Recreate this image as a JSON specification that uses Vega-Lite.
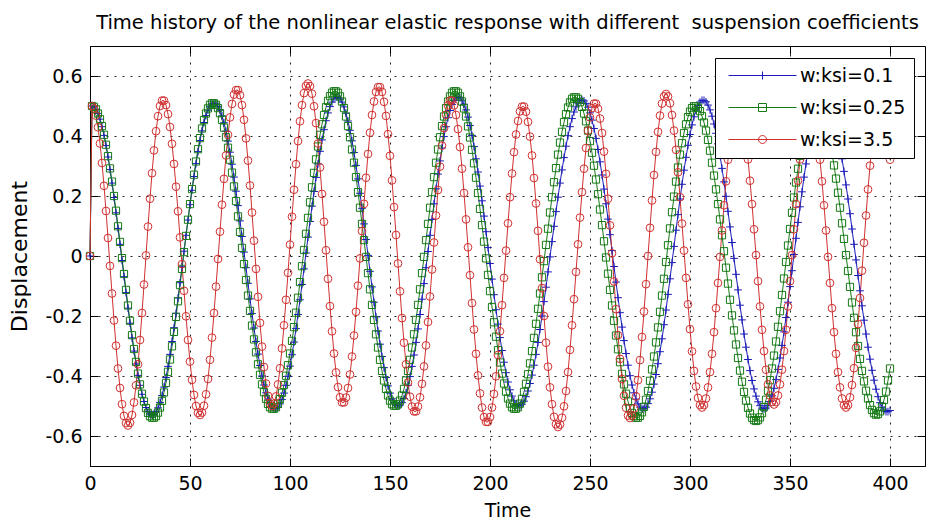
{
"$schema": "https://vega.github.io/schema/vega-lite/v6.json",
"width": 835, "height": 420,
"autosize": {"type": "none"},
"padding": {"left": 90, "top": 46, "right": 3, "bottom": 59},
"background": "white",
"title": {"text": "Time history of the nonlinear elastic response with different\u00a0 suspension coefficients", "font": "DejaVu Sans", "fontSize": 19.5, "fontWeight": "normal", "color": "black", "anchor": "middle", "frame": "group", "baseline": "alphabetic", "offset": 18, "dy": 21},
"data": {"values": [
{"t":0,"a":0,"b":0,"c":0},
{"t":1,"a":0.5,"b":0.5,"c":0.5},
{"t":2,"a":0.497,"b":0.497,"c":0.492},
{"t":3,"a":0.489,"b":0.489,"c":0.468},
{"t":4,"a":0.475,"b":0.475,"c":0.429},
{"t":5,"a":0.456,"b":0.456,"c":0.375},
{"t":6,"a":0.431,"b":0.433,"c":0.310},
{"t":7,"a":0.402,"b":0.404,"c":0.234},
{"t":8,"a":0.368,"b":0.371,"c":0.150},
{"t":9,"a":0.330,"b":0.333,"c":0.060},
{"t":10,"a":0.288,"b":0.292,"c":-0.033},
{"t":11,"a":0.243,"b":0.248,"c":-0.125},
{"t":12,"a":0.195,"b":0.200,"c":-0.215},
{"t":13,"a":0.144,"b":0.151,"c":-0.299},
{"t":14,"a":0.092,"b":0.099,"c":-0.375},
{"t":15,"a":0.039,"b":0.047,"c":-0.440},
{"t":16,"a":-0.015,"b":-0.007,"c":-0.494},
{"t":17,"a":-0.069,"b":-0.060,"c":-0.533},
{"t":18,"a":-0.122,"b":-0.113,"c":-0.557},
{"t":19,"a":-0.174,"b":-0.165,"c":-0.565},
{"t":20,"a":-0.224,"b":-0.216,"c":-0.556},
{"t":21,"a":-0.273,"b":-0.264,"c":-0.530},
{"t":22,"a":-0.317,"b":-0.310,"c":-0.488},
{"t":23,"a":-0.360,"b":-0.353,"c":-0.431},
{"t":24,"a":-0.398,"b":-0.392,"c":-0.361},
{"t":25,"a":-0.431,"b":-0.428,"c":-0.280},
{"t":26,"a":-0.461,"b":-0.459,"c":-0.190},
{"t":27,"a":-0.485,"b":-0.485,"c":-0.095},
{"t":28,"a":-0.505,"b":-0.507,"c":0.002},
{"t":29,"a":-0.519,"b":-0.523,"c":0.098},
{"t":30,"a":-0.527,"b":-0.534,"c":0.191},
{"t":31,"a":-0.530,"b":-0.539,"c":0.276},
{"t":32,"a":-0.527,"b":-0.539,"c":0.352},
{"t":33,"a":-0.519,"b":-0.534,"c":0.416},
{"t":34,"a":-0.506,"b":-0.522,"c":0.466},
{"t":35,"a":-0.488,"b":-0.505,"c":0.500},
{"t":36,"a":-0.465,"b":-0.483,"c":0.518},
{"t":37,"a":-0.437,"b":-0.455,"c":0.518},
{"t":38,"a":-0.405,"b":-0.423,"c":0.503},
{"t":39,"a":-0.368,"b":-0.386,"c":0.473},
{"t":40,"a":-0.328,"b":-0.345,"c":0.430},
{"t":41,"a":-0.285,"b":-0.301,"c":0.374},
{"t":42,"a":-0.239,"b":-0.253,"c":0.307},
{"t":43,"a":-0.191,"b":-0.203,"c":0.231},
{"t":44,"a":-0.140,"b":-0.151,"c":0.149},
{"t":45,"a":-0.089,"b":-0.097,"c":0.062},
{"t":46,"a":-0.036,"b":-0.043,"c":-0.027},
{"t":47,"a":0.016,"b":0.013,"c":-0.116},
{"t":48,"a":0.069,"b":0.067,"c":-0.201},
{"t":49,"a":0.120,"b":0.121,"c":-0.280},
{"t":50,"a":0.171,"b":0.173,"c":-0.352},
{"t":51,"a":0.219,"b":0.223,"c":-0.413},
{"t":52,"a":0.265,"b":0.271,"c":-0.463},
{"t":53,"a":0.308,"b":0.315,"c":-0.500},
{"t":54,"a":0.348,"b":0.356,"c":-0.523},
{"t":55,"a":0.385,"b":0.393,"c":-0.530},
{"t":56,"a":0.417,"b":0.425,"c":-0.522},
{"t":57,"a":0.445,"b":0.453,"c":-0.499},
{"t":58,"a":0.468,"b":0.475,"c":-0.461},
{"t":59,"a":0.486,"b":0.492,"c":-0.410},
{"t":60,"a":0.499,"b":0.504,"c":-0.346},
{"t":61,"a":0.507,"b":0.509,"c":-0.272},
{"t":62,"a":0.510,"b":0.509,"c":-0.190},
{"t":63,"a":0.507,"b":0.504,"c":-0.102},
{"t":64,"a":0.499,"b":0.493,"c":-0.010},
{"t":65,"a":0.486,"b":0.476,"c":0.081},
{"t":66,"a":0.467,"b":0.454,"c":0.171},
{"t":67,"a":0.444,"b":0.428,"c":0.257},
{"t":68,"a":0.416,"b":0.396,"c":0.335},
{"t":69,"a":0.383,"b":0.361,"c":0.404},
{"t":70,"a":0.346,"b":0.321,"c":0.462},
{"t":71,"a":0.306,"b":0.278,"c":0.507},
{"t":72,"a":0.263,"b":0.232,"c":0.538},
{"t":73,"a":0.216,"b":0.183,"c":0.553},
{"t":74,"a":0.168,"b":0.132,"c":0.553},
{"t":75,"a":0.117,"b":0.080,"c":0.536},
{"t":76,"a":0.065,"b":0.027,"c":0.503},
{"t":77,"a":0.013,"b":-0.027,"c":0.454},
{"t":78,"a":-0.039,"b":-0.080,"c":0.392},
{"t":79,"a":-0.091,"b":-0.132,"c":0.318},
{"t":80,"a":-0.143,"b":-0.183,"c":0.235},
{"t":81,"a":-0.192,"b":-0.232,"c":0.145},
{"t":82,"a":-0.240,"b":-0.278,"c":0.051},
{"t":83,"a":-0.285,"b":-0.321,"c":-0.043},
{"t":84,"a":-0.327,"b":-0.361,"c":-0.136},
{"t":85,"a":-0.365,"b":-0.396,"c":-0.223},
{"t":86,"a":-0.400,"b":-0.428,"c":-0.302},
{"t":87,"a":-0.430,"b":-0.454,"c":-0.370},
{"t":88,"a":-0.456,"b":-0.476,"c":-0.425},
{"t":89,"a":-0.477,"b":-0.493,"c":-0.466},
{"t":90,"a":-0.493,"b":-0.504,"c":-0.492},
{"t":91,"a":-0.504,"b":-0.509,"c":-0.500},
{"t":92,"a":-0.509,"b":-0.509,"c":-0.492},
{"t":93,"a":-0.509,"b":-0.504,"c":-0.468},
{"t":94,"a":-0.504,"b":-0.493,"c":-0.428},
{"t":95,"a":-0.493,"b":-0.477,"c":-0.374},
{"t":96,"a":-0.478,"b":-0.456,"c":-0.308},
{"t":97,"a":-0.457,"b":-0.430,"c":-0.231},
{"t":98,"a":-0.431,"b":-0.399,"c":-0.146},
{"t":99,"a":-0.401,"b":-0.364,"c":-0.056},
{"t":100,"a":-0.367,"b":-0.325,"c":0.038},
{"t":101,"a":-0.329,"b":-0.283,"c":0.131},
{"t":102,"a":-0.287,"b":-0.237,"c":0.221},
{"t":103,"a":-0.242,"b":-0.189,"c":0.306},
{"t":104,"a":-0.195,"b":-0.139,"c":0.383},
{"t":105,"a":-0.146,"b":-0.087,"c":0.449},
{"t":106,"a":-0.095,"b":-0.034,"c":0.503},
{"t":107,"a":-0.043,"b":0.020,"c":0.543},
{"t":108,"a":0.010,"b":0.074,"c":0.567},
{"t":109,"a":0.063,"b":0.127,"c":0.575},
{"t":110,"a":0.115,"b":0.179,"c":0.566},
{"t":111,"a":0.166,"b":0.229,"c":0.541},
{"t":112,"a":0.215,"b":0.277,"c":0.499},
{"t":113,"a":0.262,"b":0.322,"c":0.443},
{"t":114,"a":0.307,"b":0.365,"c":0.375},
{"t":115,"a":0.349,"b":0.404,"c":0.295},
{"t":116,"a":0.387,"b":0.439,"c":0.207},
{"t":117,"a":0.421,"b":0.470,"c":0.114},
{"t":118,"a":0.451,"b":0.496,"c":0.019},
{"t":119,"a":0.477,"b":0.517,"c":-0.076},
{"t":120,"a":0.498,"b":0.533,"c":-0.167},
{"t":121,"a":0.513,"b":0.544,"c":-0.251},
{"t":122,"a":0.524,"b":0.549,"c":-0.325},
{"t":123,"a":0.529,"b":0.549,"c":-0.388},
{"t":124,"a":0.529,"b":0.544,"c":-0.437},
{"t":125,"a":0.524,"b":0.532,"c":-0.471},
{"t":126,"a":0.513,"b":0.515,"c":-0.488},
{"t":127,"a":0.497,"b":0.493,"c":-0.488},
{"t":128,"a":0.476,"b":0.465,"c":-0.472},
{"t":129,"a":0.450,"b":0.433,"c":-0.440},
{"t":130,"a":0.419,"b":0.396,"c":-0.395},
{"t":131,"a":0.384,"b":0.355,"c":-0.335},
{"t":132,"a":0.345,"b":0.311,"c":-0.265},
{"t":133,"a":0.302,"b":0.263,"c":-0.186},
{"t":134,"a":0.257,"b":0.213,"c":-0.099},
{"t":135,"a":0.209,"b":0.161,"c":-0.008},
{"t":136,"a":0.159,"b":0.107,"c":0.083},
{"t":137,"a":0.107,"b":0.053,"c":0.174},
{"t":138,"a":0.055,"b":-0.003,"c":0.261},
{"t":139,"a":0.002,"b":-0.057,"c":0.340},
{"t":140,"a":-0.051,"b":-0.111,"c":0.411},
{"t":141,"a":-0.103,"b":-0.163,"c":0.470},
{"t":142,"a":-0.154,"b":-0.213,"c":0.515},
{"t":143,"a":-0.203,"b":-0.261,"c":0.547},
{"t":144,"a":-0.250,"b":-0.305,"c":0.563},
{"t":145,"a":-0.294,"b":-0.346,"c":0.563},
{"t":146,"a":-0.335,"b":-0.383,"c":0.547},
{"t":147,"a":-0.372,"b":-0.415,"c":0.514},
{"t":148,"a":-0.405,"b":-0.443,"c":0.467},
{"t":149,"a":-0.433,"b":-0.465,"c":0.406},
{"t":150,"a":-0.457,"b":-0.482,"c":0.334},
{"t":151,"a":-0.476,"b":-0.494,"c":0.252},
{"t":152,"a":-0.489,"b":-0.499,"c":0.163},
{"t":153,"a":-0.497,"b":-0.499,"c":0.070},
{"t":154,"a":-0.500,"b":-0.494,"c":-0.025},
{"t":155,"a":-0.497,"b":-0.482,"c":-0.118},
{"t":156,"a":-0.489,"b":-0.465,"c":-0.207},
{"t":157,"a":-0.475,"b":-0.443,"c":-0.289},
{"t":158,"a":-0.456,"b":-0.415,"c":-0.361},
{"t":159,"a":-0.431,"b":-0.383,"c":-0.422},
{"t":160,"a":-0.402,"b":-0.346,"c":-0.469},
{"t":161,"a":-0.368,"b":-0.305,"c":-0.502},
{"t":162,"a":-0.330,"b":-0.261,"c":-0.518},
{"t":163,"a":-0.288,"b":-0.213,"c":-0.518},
{"t":164,"a":-0.243,"b":-0.163,"c":-0.502},
{"t":165,"a":-0.195,"b":-0.111,"c":-0.471},
{"t":166,"a":-0.144,"b":-0.057,"c":-0.426},
{"t":167,"a":-0.092,"b":-0.003,"c":-0.368},
{"t":168,"a":-0.039,"b":0.053,"c":-0.298},
{"t":169,"a":0.015,"b":0.107,"c":-0.220},
{"t":170,"a":0.069,"b":0.161,"c":-0.135},
{"t":171,"a":0.122,"b":0.213,"c":-0.045},
{"t":172,"a":0.174,"b":0.263,"c":0.045},
{"t":173,"a":0.224,"b":0.311,"c":0.135},
{"t":174,"a":0.273,"b":0.355,"c":0.220},
{"t":175,"a":0.317,"b":0.396,"c":0.298},
{"t":176,"a":0.360,"b":0.433,"c":0.368},
{"t":177,"a":0.398,"b":0.465,"c":0.426},
{"t":178,"a":0.431,"b":0.493,"c":0.471},
{"t":179,"a":0.461,"b":0.515,"c":0.502},
{"t":180,"a":0.485,"b":0.532,"c":0.518},
{"t":181,"a":0.505,"b":0.544,"c":0.518},
{"t":182,"a":0.519,"b":0.549,"c":0.502},
{"t":183,"a":0.527,"b":0.549,"c":0.470},
{"t":184,"a":0.530,"b":0.544,"c":0.423},
{"t":185,"a":0.527,"b":0.532,"c":0.363},
{"t":186,"a":0.519,"b":0.515,"c":0.291},
{"t":187,"a":0.506,"b":0.492,"c":0.210},
{"t":188,"a":0.487,"b":0.465,"c":0.122},
{"t":189,"a":0.463,"b":0.432,"c":0.029},
{"t":190,"a":0.435,"b":0.395,"c":-0.064},
{"t":191,"a":0.402,"b":0.354,"c":-0.157},
{"t":192,"a":0.365,"b":0.309,"c":-0.245},
{"t":193,"a":0.324,"b":0.261,"c":-0.326},
{"t":194,"a":0.280,"b":0.210,"c":-0.398},
{"t":195,"a":0.233,"b":0.157,"c":-0.458},
{"t":196,"a":0.184,"b":0.103,"c":-0.505},
{"t":197,"a":0.133,"b":0.048,"c":-0.537},
{"t":198,"a":0.081,"b":-0.008,"c":-0.553},
{"t":199,"a":0.028,"b":-0.063,"c":-0.553},
{"t":200,"a":-0.025,"b":-0.117,"c":-0.537},
{"t":201,"a":-0.077,"b":-0.170,"c":-0.505},
{"t":202,"a":-0.129,"b":-0.221,"c":-0.460},
{"t":203,"a":-0.179,"b":-0.269,"c":-0.401},
{"t":204,"a":-0.227,"b":-0.314,"c":-0.330},
{"t":205,"a":-0.272,"b":-0.355,"c":-0.251},
{"t":206,"a":-0.315,"b":-0.392,"c":-0.164},
{"t":207,"a":-0.354,"b":-0.425,"c":-0.073},
{"t":208,"a":-0.389,"b":-0.452,"c":0.018},
{"t":209,"a":-0.420,"b":-0.475,"c":0.109},
{"t":210,"a":-0.446,"b":-0.492,"c":0.196},
{"t":211,"a":-0.467,"b":-0.504,"c":0.275},
{"t":212,"a":-0.483,"b":-0.509,"c":0.346},
{"t":213,"a":-0.494,"b":-0.509,"c":0.405},
{"t":214,"a":-0.499,"b":-0.504,"c":0.450},
{"t":215,"a":-0.499,"b":-0.492,"c":0.482},
{"t":216,"a":-0.494,"b":-0.476,"c":0.498},
{"t":217,"a":-0.484,"b":-0.453,"c":0.498},
{"t":218,"a":-0.469,"b":-0.426,"c":0.481},
{"t":219,"a":-0.450,"b":-0.394,"c":0.447},
{"t":220,"a":-0.425,"b":-0.358,"c":0.398},
{"t":221,"a":-0.397,"b":-0.317,"c":0.335},
{"t":222,"a":-0.364,"b":-0.273,"c":0.260},
{"t":223,"a":-0.328,"b":-0.226,"c":0.175},
{"t":224,"a":-0.288,"b":-0.176,"c":0.084},
{"t":225,"a":-0.245,"b":-0.125,"c":-0.011},
{"t":226,"a":-0.200,"b":-0.071,"c":-0.107},
{"t":227,"a":-0.152,"b":-0.017,"c":-0.200},
{"t":228,"a":-0.104,"b":0.037,"c":-0.289},
{"t":229,"a":-0.053,"b":0.091,"c":-0.369},
{"t":230,"a":-0.003,"b":0.145,"c":-0.438},
{"t":231,"a":0.048,"b":0.196,"c":-0.494},
{"t":232,"a":0.099,"b":0.246,"c":-0.536},
{"t":233,"a":0.148,"b":0.293,"c":-0.561},
{"t":234,"a":0.196,"b":0.338,"c":-0.570},
{"t":235,"a":0.243,"b":0.378,"c":-0.562},
{"t":236,"a":0.287,"b":0.414,"c":-0.539},
{"t":237,"a":0.328,"b":0.446,"c":-0.501},
{"t":238,"a":0.366,"b":0.473,"c":-0.450},
{"t":239,"a":0.401,"b":0.495,"c":-0.387},
{"t":240,"a":0.431,"b":0.512,"c":-0.313},
{"t":241,"a":0.458,"b":0.524,"c":-0.231},
{"t":242,"a":0.480,"b":0.529,"c":-0.144},
{"t":243,"a":0.497,"b":0.529,"c":-0.053},
{"t":244,"a":0.510,"b":0.524,"c":0.039},
{"t":245,"a":0.518,"b":0.513,"c":0.128},
{"t":246,"a":0.520,"b":0.497,"c":0.213},
{"t":247,"a":0.517,"b":0.475,"c":0.291},
{"t":248,"a":0.509,"b":0.449,"c":0.360},
{"t":249,"a":0.496,"b":0.418,"c":0.418},
{"t":250,"a":0.477,"b":0.383,"c":0.462},
{"t":251,"a":0.453,"b":0.344,"c":0.493},
{"t":252,"a":0.425,"b":0.301,"c":0.508},
{"t":253,"a":0.392,"b":0.255,"c":0.508},
{"t":254,"a":0.355,"b":0.206,"c":0.491},
{"t":255,"a":0.314,"b":0.155,"c":0.458},
{"t":256,"a":0.270,"b":0.103,"c":0.410},
{"t":257,"a":0.223,"b":0.049,"c":0.348},
{"t":258,"a":0.174,"b":-0.005,"c":0.274},
{"t":259,"a":0.123,"b":-0.059,"c":0.191},
{"t":260,"a":0.071,"b":-0.113,"c":0.102},
{"t":261,"a":0.018,"b":-0.165,"c":0.009},
{"t":262,"a":-0.035,"b":-0.216,"c":-0.085},
{"t":263,"a":-0.087,"b":-0.265,"c":-0.177},
{"t":264,"a":-0.139,"b":-0.311,"c":-0.264},
{"t":265,"a":-0.189,"b":-0.354,"c":-0.343},
{"t":266,"a":-0.237,"b":-0.393,"c":-0.410},
{"t":267,"a":-0.282,"b":-0.428,"c":-0.466},
{"t":268,"a":-0.325,"b":-0.459,"c":-0.506},
{"t":269,"a":-0.364,"b":-0.485,"c":-0.532},
{"t":270,"a":-0.399,"b":-0.507,"c":-0.540},
{"t":271,"a":-0.430,"b":-0.523,"c":-0.532},
{"t":272,"a":-0.456,"b":-0.534,"c":-0.508},
{"t":273,"a":-0.477,"b":-0.539,"c":-0.468},
{"t":274,"a":-0.493,"b":-0.539,"c":-0.414},
{"t":275,"a":-0.504,"b":-0.533,"c":-0.347},
{"t":276,"a":-0.509,"b":-0.521,"c":-0.270},
{"t":277,"a":-0.509,"b":-0.503,"c":-0.185},
{"t":278,"a":-0.504,"b":-0.479,"c":-0.094},
{"t":279,"a":-0.492,"b":-0.450,"c":0.000},
{"t":280,"a":-0.476,"b":-0.416,"c":0.094},
{"t":281,"a":-0.454,"b":-0.378,"c":0.185},
{"t":282,"a":-0.427,"b":-0.335,"c":0.270},
{"t":283,"a":-0.395,"b":-0.288,"c":0.347},
{"t":284,"a":-0.359,"b":-0.238,"c":0.414},
{"t":285,"a":-0.319,"b":-0.186,"c":0.468},
{"t":286,"a":-0.276,"b":-0.132,"c":0.508},
{"t":287,"a":-0.229,"b":-0.076,"c":0.532},
{"t":288,"a":-0.180,"b":-0.020,"c":0.540},
{"t":289,"a":-0.128,"b":0.036,"c":0.532},
{"t":290,"a":-0.076,"b":0.092,"c":0.509},
{"t":291,"a":-0.022,"b":0.146,"c":0.470},
{"t":292,"a":0.032,"b":0.198,"c":0.418},
{"t":293,"a":0.086,"b":0.248,"c":0.354},
{"t":294,"a":0.138,"b":0.295,"c":0.279},
{"t":295,"a":0.190,"b":0.338,"c":0.196},
{"t":296,"a":0.239,"b":0.376,"c":0.108},
{"t":297,"a":0.286,"b":0.410,"c":0.018},
{"t":298,"a":0.329,"b":0.439,"c":-0.073},
{"t":299,"a":0.369,"b":0.463,"c":-0.161},
{"t":300,"a":0.405,"b":0.481,"c":-0.244},
{"t":301,"a":0.437,"b":0.493,"c":-0.318},
{"t":302,"a":0.464,"b":0.499,"c":-0.383},
{"t":303,"a":0.486,"b":0.499,"c":-0.435},
{"t":304,"a":0.502,"b":0.494,"c":-0.473},
{"t":305,"a":0.513,"b":0.483,"c":-0.497},
{"t":306,"a":0.519,"b":0.466,"c":-0.505},
{"t":307,"a":0.519,"b":0.445,"c":-0.497},
{"t":308,"a":0.514,"b":0.418,"c":-0.475},
{"t":309,"a":0.503,"b":0.387,"c":-0.438},
{"t":310,"a":0.487,"b":0.351,"c":-0.387},
{"t":311,"a":0.466,"b":0.311,"c":-0.326},
{"t":312,"a":0.440,"b":0.268,"c":-0.254},
{"t":313,"a":0.409,"b":0.222,"c":-0.174},
{"t":314,"a":0.374,"b":0.173,"c":-0.090},
{"t":315,"a":0.335,"b":0.122,"c":-0.003},
{"t":316,"a":0.292,"b":0.069,"c":0.085},
{"t":317,"a":0.247,"b":0.016,"c":0.169},
{"t":318,"a":0.199,"b":-0.039,"c":0.249},
{"t":319,"a":0.149,"b":-0.092,"c":0.321},
{"t":320,"a":0.097,"b":-0.146,"c":0.382},
{"t":321,"a":0.045,"b":-0.198,"c":0.433},
{"t":322,"a":-0.008,"b":-0.248,"c":0.470},
{"t":323,"a":-0.061,"b":-0.295,"c":0.492},
{"t":324,"a":-0.113,"b":-0.340,"c":0.500},
{"t":325,"a":-0.164,"b":-0.382,"c":0.492},
{"t":326,"a":-0.213,"b":-0.419,"c":0.470},
{"t":327,"a":-0.260,"b":-0.453,"c":0.433},
{"t":328,"a":-0.304,"b":-0.482,"c":0.384},
{"t":329,"a":-0.345,"b":-0.506,"c":0.322},
{"t":330,"a":-0.382,"b":-0.525,"c":0.251},
{"t":331,"a":-0.415,"b":-0.539,"c":0.173},
{"t":332,"a":-0.443,"b":-0.547,"c":0.089},
{"t":333,"a":-0.467,"b":-0.550,"c":0.003},
{"t":334,"a":-0.486,"b":-0.547,"c":-0.084},
{"t":335,"a":-0.499,"b":-0.538,"c":-0.168},
{"t":336,"a":-0.507,"b":-0.524,"c":-0.246},
{"t":337,"a":-0.510,"b":-0.504,"c":-0.317},
{"t":338,"a":-0.507,"b":-0.479,"c":-0.379},
{"t":339,"a":-0.499,"b":-0.449,"c":-0.428},
{"t":340,"a":-0.485,"b":-0.414,"c":-0.465},
{"t":341,"a":-0.466,"b":-0.375,"c":-0.487},
{"t":342,"a":-0.441,"b":-0.332,"c":-0.495},
{"t":343,"a":-0.412,"b":-0.285,"c":-0.487},
{"t":344,"a":-0.378,"b":-0.236,"c":-0.465},
{"t":345,"a":-0.340,"b":-0.184,"c":-0.428},
{"t":346,"a":-0.298,"b":-0.130,"c":-0.379},
{"t":347,"a":-0.253,"b":-0.075,"c":-0.317},
{"t":348,"a":-0.205,"b":-0.020,"c":-0.246},
{"t":349,"a":-0.154,"b":0.035,"c":-0.168},
{"t":350,"a":-0.102,"b":0.090,"c":-0.084},
{"t":351,"a":-0.049,"b":0.144,"c":0.003},
{"t":352,"a":0.005,"b":0.195,"c":0.089},
{"t":353,"a":0.059,"b":0.245,"c":0.173},
{"t":354,"a":0.112,"b":0.291,"c":0.251},
{"t":355,"a":0.164,"b":0.334,"c":0.322},
{"t":356,"a":0.214,"b":0.374,"c":0.384},
{"t":357,"a":0.263,"b":0.409,"c":0.433},
{"t":358,"a":0.307,"b":0.439,"c":0.470},
{"t":359,"a":0.350,"b":0.464,"c":0.492},
{"t":360,"a":0.388,"b":0.484,"c":0.500},
{"t":361,"a":0.421,"b":0.498,"c":0.492},
{"t":362,"a":0.451,"b":0.507,"c":0.470},
{"t":363,"a":0.475,"b":0.510,"c":0.433},
{"t":364,"a":0.495,"b":0.507,"c":0.382},
{"t":365,"a":0.509,"b":0.499,"c":0.321},
{"t":366,"a":0.517,"b":0.485,"c":0.249},
{"t":367,"a":0.520,"b":0.467,"c":0.169},
{"t":368,"a":0.517,"b":0.443,"c":0.085},
{"t":369,"a":0.510,"b":0.414,"c":-0.003},
{"t":370,"a":0.497,"b":0.381,"c":-0.090},
{"t":371,"a":0.479,"b":0.343,"c":-0.174},
{"t":372,"a":0.457,"b":0.302,"c":-0.254},
{"t":373,"a":0.430,"b":0.258,"c":-0.326},
{"t":374,"a":0.398,"b":0.211,"c":-0.387},
{"t":375,"a":0.363,"b":0.161,"c":-0.438},
{"t":376,"a":0.324,"b":0.109,"c":-0.475},
{"t":377,"a":0.282,"b":0.057,"c":-0.497},
{"t":378,"a":0.237,"b":0.003,"c":-0.505},
{"t":379,"a":0.190,"b":-0.050,"c":-0.497},
{"t":380,"a":0.141,"b":-0.103,"c":-0.471},
{"t":381,"a":0.090,"b":-0.155,"c":-0.430},
{"t":382,"a":0.039,"b":-0.206,"c":-0.374},
{"t":383,"a":-0.013,"b":-0.254,"c":-0.306},
{"t":384,"a":-0.065,"b":-0.300,"c":-0.227},
{"t":385,"a":-0.116,"b":-0.343,"c":-0.140},
{"t":386,"a":-0.166,"b":-0.383,"c":-0.049},
{"t":387,"a":-0.214,"b":-0.418,"c":0.044},
{"t":388,"a":-0.260,"b":-0.449,"c":0.135},
{"t":389,"a":-0.304,"b":-0.475,"c":0.222},
{"t":390,"a":-0.344,"b":-0.497,"c":0.301},
{"t":391,"a":-0.381,"b":-0.513,"c":0.369},
{"t":392,"a":-0.414,"b":-0.524,"c":0.425},
{"t":393,"a":-0.444,"b":-0.529,"c":0.466},
{"t":394,"a":-0.469,"b":-0.527,"c":0.492},
{"t":395,"a":-0.489,"b":-0.518,"c":0.500},
{"t":396,"a":-0.504,"b":-0.502,"c":0.492},
{"t":397,"a":-0.514,"b":-0.480,"c":0.470},
{"t":398,"a":-0.519,"b":-0.452,"c":0.433},
{"t":399,"a":-0.519,"b":-0.415,"c":0.383},
{"t":400,"a":-0.515,"b":-0.375,"c":0.321}
]},
"transform": [{"fold": ["a", "b", "c"], "as": ["s", "v"]}],
"layer": [
{
"mark": {"type": "line", "strokeWidth": 1, "interpolate": "linear"},
"encoding": {
"x": {"field": "t", "type": "quantitative", "scale": {"domain": [0, 417.5], "nice": false, "zero": false},
"axis": {"orient": "bottom", "values": [0, 50, 100, 150, 200, 250, 300, 350, 400], "grid": true, "gridDash": [2, 6], "gridColor": "#222222", "gridWidth": 1, "ticks": false, "domain": true, "domainColor": "black", "labelFont": "DejaVu Sans", "labelFontSize": 19, "labelColor": "black", "labelPadding": 8, "labelFlush": false, "labelOverlap": false, "title": "Time", "titleFont": "DejaVu Sans", "titleFontSize": 19, "titleFontWeight": "normal", "titleColor": "black", "titlePadding": 8}},
"y": {"field": "v", "type": "quantitative", "scale": {"domain": [-0.7, 0.7], "nice": false, "zero": false},
"axis": {"orient": "left", "values": [-0.6, -0.4, -0.2, 0, 0.2, 0.4, 0.6], "grid": true, "gridDash": [2, 6], "gridColor": "#222222", "gridWidth": 1, "ticks": false, "domain": true, "domainColor": "black", "labelFont": "DejaVu Sans", "labelFontSize": 19, "labelColor": "black", "labelPadding": 8, "labelFlush": false, "labelOverlap": false, "labelExpr": "datum.value == 0 ? '0' : (datum.value < 0 ? '-' + format(-datum.value, '.1f') : format(datum.value, '.1f'))", "title": "Displacement", "titleFont": "DejaVu Sans", "titleFontSize": 22, "titleFontWeight": "normal", "titleColor": "black", "titlePadding": 13}},
"color": {"field": "s", "type": "nominal", "scale": {"domain": ["a", "b", "c"], "range": ["#1a1ab8", "#157a15", "#d03030"]},
"legend": {"title": null, "orient": "none", "legendX": 625, "legendY": 12, "direction": "vertical", "fillColor": "white", "strokeColor": "black", "padding": 8, "labelFont": "DejaVu Sans", "labelFontSize": 19, "labelColor": "black", "symbolSize": 289, "symbolStrokeWidth": 1, "symbolOpacity": 1, "symbolOffset": 30, "labelOffset": 28, "rowPadding": 12,
"labelExpr": "datum.label == 'a' ? 'w:ksi=0.1' : (datum.label == 'b' ? 'w:ksi=0.25' : 'w:ksi=3.5')",
"encode": {"symbols": {"update": {"shape": {"signal": "datum.value == 'a' ? 'M-4,0H4M0,-0.47V0.47' : (datum.value == 'b' ? 'M-4,0H4M-0.47,-0.47H0.47V0.47H-0.47Z' : 'M-4,0H4M0.47,0A0.47,0.47 0 1,1 -0.47,0A0.47,0.47 0 1,1 0.47,0')"}, "fill": {"value": "transparent"}, "strokeWidth": {"value": 1}}}}}}
}
},
{
"transform": [{"filter": "datum.s == 'a'"}],
"mark": {"type": "point", "shape": "M-1,0H1M0,-1V1", "filled": false, "strokeWidth": 1, "size": 60, "opacity": 1},
"encoding": {
"x": {"field": "t", "type": "quantitative", "axis": {"orient": "top", "offset": -8, "values": [0, 50, 100, 150, 200, 250, 300, 350, 400], "ticks": true, "tickSize": 8, "tickColor": "black", "labels": false, "domain": false, "grid": false, "title": null}},
"y": {"field": "v", "type": "quantitative", "axis": {"orient": "right", "offset": -8, "values": [-0.6, -0.4, -0.2, 0, 0.2, 0.4, 0.6], "ticks": true, "tickSize": 8, "tickColor": "black", "labels": false, "domain": false, "grid": false, "title": null}},
"color": {"field": "s", "type": "nominal"}
}
},
{
"transform": [{"filter": "datum.s == 'b'"}],
"mark": {"type": "point", "shape": "square", "filled": false, "strokeWidth": 1, "size": 52, "opacity": 1},
"encoding": {
"x": {"field": "t", "type": "quantitative", "axis": {"orient": "bottom", "offset": -8, "values": [0, 50, 100, 150, 200, 250, 300, 350, 400], "ticks": true, "tickSize": 8, "tickColor": "black", "labels": false, "domain": false, "grid": false, "title": null}},
"y": {"field": "v", "type": "quantitative", "axis": {"orient": "left", "offset": -8, "values": [-0.6, -0.4, -0.2, 0, 0.2, 0.4, 0.6], "ticks": true, "tickSize": 8, "tickColor": "black", "labels": false, "domain": false, "grid": false, "title": null}},
"color": {"field": "s", "type": "nominal"}
}
},
{
"transform": [{"filter": "datum.s == 'c'"}],
"mark": {"type": "point", "shape": "circle", "filled": false, "strokeWidth": 1, "size": 60, "opacity": 1},
"encoding": {
"x": {"field": "t", "type": "quantitative", "axis": null},
"y": {"field": "v", "type": "quantitative", "axis": null},
"color": {"field": "s", "type": "nominal"}
}
}
],
"resolve": {"axis": {"x": "independent", "y": "independent"}},
"config": {"view": {"stroke": "black", "strokeWidth": 1}}
}
